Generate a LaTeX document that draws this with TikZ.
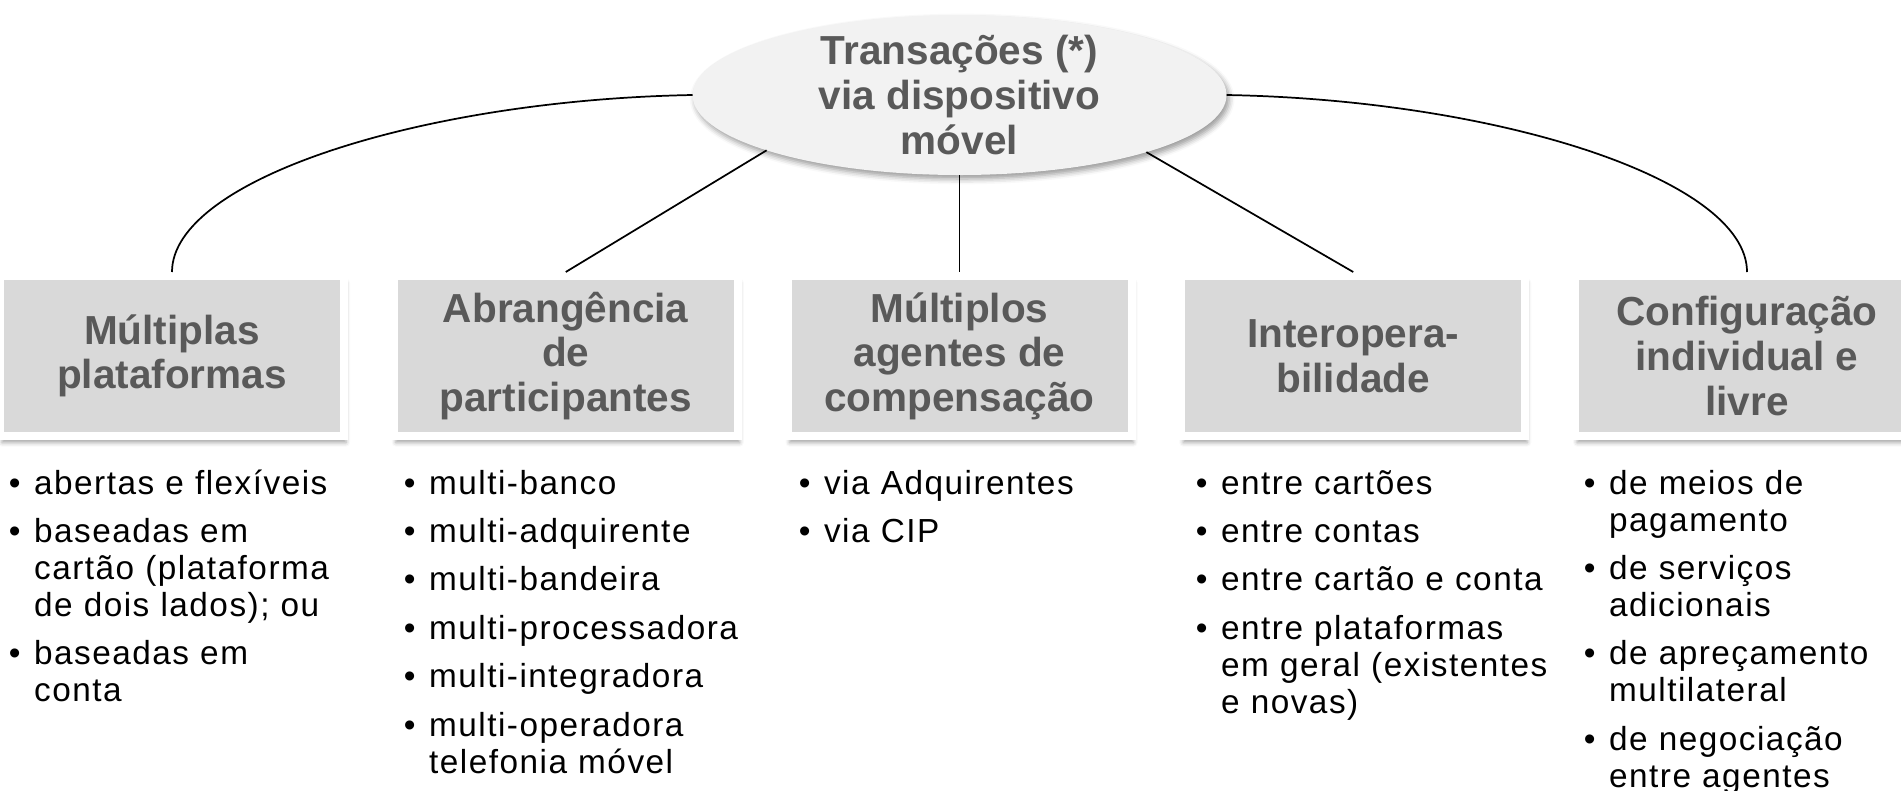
\documentclass[tikz,border=0pt]{standalone}
\usepackage{fontspec}
\setmainfont{Liberation Sans}
\newfontfamily\listfont[LetterSpace=4.5]{Liberation Sans}
\usepackage{tikz}
\usepackage{xcolor}
\usetikzlibrary{shapes.geometric,shadows.blur}

\definecolor{headgray}{HTML}{595959}
\definecolor{boxgray}{HTML}{D9D9D9}
\definecolor{hubfill}{HTML}{F2F2F2}

% bullet items, continuation lines hang under the text
\newcommand{\fitem}{\hangindent=19pt\hangafter=1\hbox to 19pt{\textbullet\hss}}
\newcommand{\bitem}{\par\vskip8.6pt\hangindent=19pt\hangafter=1\noindent\hbox to 19pt{\textbullet\hss}}

\tikzset{
  hubnode/.style={ellipse, fill=hubfill, minimum width=400.5pt, minimum height=120pt,
    inner xsep=0pt, inner ysep=-12pt, outer sep=0pt, text=headgray, align=center,
    font=\bfseries\fontsize{30.4}{33.75}\selectfont,
    blur shadow={shadow xshift=2pt, shadow yshift=-3pt, shadow blur radius=4pt, shadow opacity=40}},
  headbox/.style={rectangle, fill=boxgray, draw=white, line width=6pt,
    minimum width=258pt, minimum height=120pt, inner sep=0pt, text=headgray, align=center,
    font=\bfseries\fontsize{30.4}{33.4}\selectfont,
    blur shadow={shadow xshift=1.5pt, shadow yshift=-5pt, shadow blur radius=3pt, shadow opacity=35}},
  bullets/.style={anchor=base west, text width=300pt, align=left, inner sep=0pt,
    font=\listfont\fontsize{25}{27.75}\selectfont},
  link/.style={draw=black, line width=1.3pt}
}

\begin{document}
\begin{tikzpicture}[x=0.75pt,y=0.75pt,yscale=-1,xscale=1]
\useasboundingbox (0,0) rectangle (1901,790);

%Shape: Ellipse
\node[hubnode] (hub) at (959.5,95) {Transações (*)\\via dispositivo\\móvel};

%Shape: Rectangle
\node[headbox] (plat) at (172,356) {Múltiplas\\plataformas};
%Shape: Rectangle
\node[headbox] (abran) at (565.75,356) {Abrangência\\de\\participantes};
%Shape: Rectangle
\node[headbox] (comp) at (959.5,356) {Múltiplos\\agentes de\\compensação};
%Shape: Rectangle
\node[headbox] (inter) at (1353.25,356) {Interopera-\\bilidade};
%Shape: Rectangle
\node[headbox] (config) at (1747,356) {Configuração\\individual e\\livre};

%Curve Lines
\draw[link] (hub.west) .. controls (420,100) and (172,180) .. (plat.north);
%Straight Lines
\draw[link] (hub.196.8) -- (abran.north);
%Straight Lines
\draw[link] (hub.south) -- (comp.north);
%Straight Lines
\draw[link] (hub.343.1) -- (inter.north);
%Curve Lines
\draw[link] (hub.east) .. controls (1499,100) and (1747,180) .. (config.north);

% Text Node
\node[bullets] (platlist) at (8.5,494) {\fitem abertas e flexíveis
  \bitem baseadas em\newline cartão (plataforma\newline de dois lados); ou
  \bitem baseadas em\newline conta\par};
% Text Node
\node[bullets] (abranlist) at (403.5,494) {\fitem multi-banco
  \bitem multi-adquirente
  \bitem multi-bandeira
  \bitem multi-processadora
  \bitem multi-integradora
  \bitem multi-operadora\newline telefonia móvel\par};
% Text Node
\node[bullets] (complist) at (798.5,494) {\fitem via Adquirentes
  \bitem via CIP\par};
% Text Node
\node[bullets] (interlist) at (1195.5,494) {\fitem entre cartões
  \bitem entre contas
  \bitem entre cartão e conta
  \bitem entre plataformas\newline em geral (existentes\newline e novas)\par};
% Text Node
\node[bullets] (configlist) at (1583.5,494) {\fitem de meios de\newline pagamento
  \bitem de serviços\newline adicionais
  \bitem de apreçamento\newline multilateral
  \bitem de negociação\newline entre agentes\par};

\end{tikzpicture}
\end{document}
